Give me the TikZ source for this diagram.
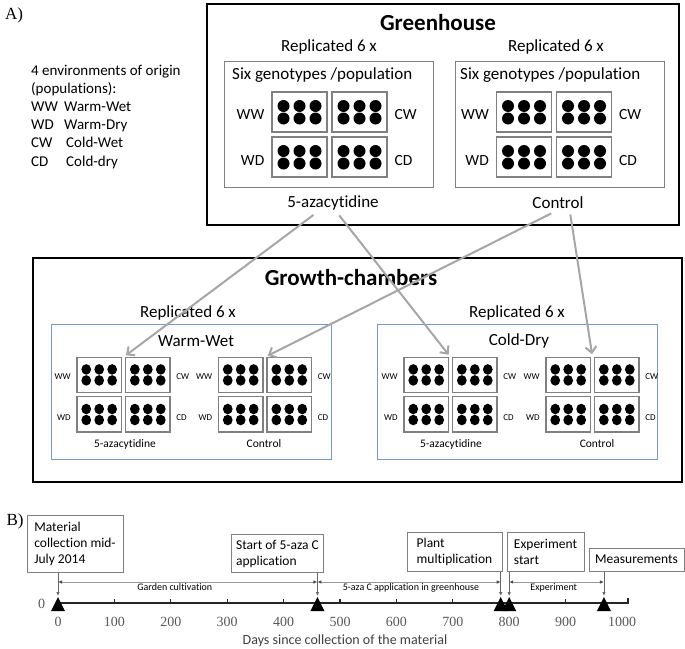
\documentclass[tikz,border=0pt]{standalone}
\usepackage{fontspec}
\setmainfont{Carlito}[Ligatures=NoCommon]
\newfontfamily\serifnum{Liberation Serif}
\usetikzlibrary{arrows.meta}

\definecolor{chamberblue}{RGB}{125,152,190}
\definecolor{flowgray}{RGB}{166,166,166}

\newcommand\dayx[1]{58+0.564*#1}

\tikzset{
  pics/trays/.style 2 args={code={
    \begin{scope}[#2]
      \foreach \bx/\by in {-57.5/-42.5,2.5/-42.5,-57.5/2.5,2.5/2.5}{
        \draw[tray] (\bx,\by) rectangle ++(55,40);
        \foreach \cx in {11.5,27.5,43.5}
          \foreach \cy in {14,26.5}
            \fill (\bx+\cx,\by+\cy) circle (6);
      }
      \node[#1,anchor=east] at (-65,-20) {WW};
      \node[#1,anchor=west] at (65,-20) {CW};
      \node[#1,anchor=east] at (-65,26) {WD};
      \node[#1,anchor=west] at (65,26) {CD};
      \coordinate (-top) at (0,-42.5);
    \end{scope}
  }},
  tray/.style={draw=black!50,line width=1.2pt},
  labbig/.style={font=\fontsize{15.5}{18}\selectfont,inner sep=0pt},
  labsmall/.style={font=\fontsize{9}{11}\selectfont,inner sep=0pt},
  thickbox/.style={draw,line width=2.6pt,inner sep=0pt},
  panel/.style={draw=black!50,line width=1pt,inner sep=0pt},
  chamber/.style={draw=chamberblue,line width=0.9pt,inner sep=0pt},
  big/.style={font=\fontsize{17}{20}\selectfont},
  title/.style={font=\fontsize{23}{27}\selectfont\bfseries},
  small/.style={font=\fontsize{11.5}{14}\selectfont},
  flow/.style={draw=flowgray,line width=2pt,shorten <=2pt,shorten >=3pt,
    -{Straight Barb[length=6pt,width=11pt]}},
  tbox/.style={draw=black!50,line width=1pt,align=left,inner sep=5pt,
    font=\fontsize{13.5}{16}\selectfont},
  pointer/.style={draw=black!60,line width=0.9pt,-{Latex[length=4pt,width=3.5pt]}},
  span/.style={draw=black!40,line width=0.9pt,
    {Latex[length=4pt,width=3.5pt,black!70]}-{Latex[length=4pt,width=3.5pt,black!70]}},
  spanlab/.style={font=\fontsize{10}{12}\selectfont,inner sep=1.5pt},
  axis/.style={draw=black!85,line width=2pt},
  tick/.style={draw=black!85,line width=1.2pt},
  num/.style={font=\serifnum\fontsize{14}{16}\selectfont,text=black!65},
  part/.style={font=\serifnum\fontsize{17}{20}\selectfont}
}

\begin{document}
\begin{tikzpicture}[x=1pt,y=-1pt]
  \useasboundingbox (0,0) rectangle (685,648);

  \node[part] (parta) at (14,15) {A)};
  \node[anchor=north west,align=left,inner sep=0pt,
    font=\fontsize{15}{18.2}\selectfont] (legend) at (31,64.5)
    {4 environments of origin\\(populations):\\
     \makebox[33pt][l]{WW}Warm-Wet\\
     \makebox[33pt][l]{WD}Warm-Dry\\
     \makebox[35pt][l]{CW}Cold-Wet\\
     \makebox[35pt][l]{CD}Cold-dry};

  % greenhouse
  \node[thickbox,minimum width=472pt,minimum height=221pt] (ghbox) at (443,114.5) {};
  \node[title] (gh) at (438,23) {Greenhouse};
  \node[big] (ghrepa) at (329,47) {Replicated 6 x};
  \node[big] (ghrepc) at (556,47) {Replicated 6 x};
  \node[panel,minimum width=209pt,minimum height=126pt] (ghpanela) at (328.5,124) {};
  \node[panel,minimum width=209pt,minimum height=126pt] (ghpanelc) at (559.5,124) {};
  \node[big,anchor=west,inner sep=0pt] (ghsixa) at (232,75) {Six genotypes /population};
  \node[big,anchor=west,inner sep=0pt] (ghsixc) at (460,75) {Six genotypes /population};
  \pic (gha) at (329.5,134.5) {trays={labbig}{}};
  \pic (ghc) at (554,134.5) {trays={labbig}{}};
  \node[big] (ghaza) at (333,203) {5-azacytidine};
  \node[big] (ghctl) at (558,203) {Control};

  % growth chambers
  \node[thickbox,minimum width=649pt,minimum height=224pt] (gcbox) at (357.5,370) {};
  \node[title] (gc) at (351,278) {Growth-chambers};
  \node[big] (wwrep) at (188,313) {Replicated 6 x};
  \node[big] (cdrep) at (517,313) {Replicated 6 x};
  \node[chamber,minimum width=280pt,minimum height=135pt] (wwbox) at (191,391.5) {};
  \node[chamber,minimum width=280pt,minimum height=135pt] (cdbox) at (517,391.5) {};
  \node[big] (ww) at (196,341) {Warm-Wet};
  \node[big] (cd) at (519,341) {Cold-Dry};
  \pic (wwa) at (123.5,394.5) {trays={labsmall}{xscale=0.81,yscale=0.88}};
  \pic (wwc) at (265,394.5) {trays={labsmall}{xscale=0.81,yscale=0.88}};
  \pic (cda) at (450.5,394.5) {trays={labsmall}{xscale=0.81,yscale=0.88}};
  \pic (cdc) at (592.5,394.5) {trays={labsmall}{xscale=0.81,yscale=0.88}};
  \node[small] (wwaza) at (125,444) {5-azacytidine};
  \node[small] (wwctl) at (264,444) {Control};
  \node[small] (cdaza) at (451,444) {5-azacytidine};
  \node[small] (cdctl) at (597,444) {Control};

  \draw[flow] ([xshift=-18pt]ghaza.south) -- (wwa-top);
  \draw[flow] ([xshift=5pt]ghaza.south) -- (cda-top);
  \draw[flow] ([xshift=-5pt]ghctl.south) -- (wwc-top);
  \draw[flow] ([xshift=12pt]ghctl.south) -- (cdc-top);

  % timeline
  \node[part] (partb) at (15,521) {B)};
  \coordinate (t0) at (58,603);
  \coordinate (tend) at ({\dayx{1010}},603);
  \draw[axis] (t0) -- (tend) -- ++(0,-5);
  \foreach \d in {100,200,...,900}
    \draw[tick] ({\dayx{\d}},603) -- ++(0,-4);
  \foreach \d in {0,100,...,1000}
    \node[num] (n\d) at ({\dayx{\d}},621.5) {\d};
  \node[num] (yzero) at (41.5,603.5) {0};
  \node[font=\fontsize{14}{16}\selectfont,text=black!75] (xlab) at (345,641)
    {Days since collection of the material};

  \foreach \d/\e in {0/e0,460/e1,785/e2,800/e3,968/e4}{
    \fill ({\dayx{\d}},597) -- ++(-7,14) -- ++(14,0) -- cycle;
    \coordinate (\e) at ({\dayx{\d}},596);
  }

  \node[tbox,minimum width=96pt,minimum height=57pt] (mat) at (75,543.5)
    {Material\\collection mid-\\July 2014};
  \node[tbox,minimum width=91pt,minimum height=37pt] (aza) at (277.5,553.5)
    {Start of 5-aza C\\application};
  \node[tbox,minimum width=95pt,minimum height=39pt] (mult) at (454.5,551.5)
    {Plant\\multiplication};
  \node[tbox,minimum width=77pt,minimum height=39pt] (exps) at (545.5,551.5)
    {Experiment\\start};
  \node[tbox,minimum width=95pt,minimum height=23pt,inner sep=3pt] (meas) at (636.5,559.5)
    {Measurements};

  \draw[pointer] (e0 |- mat.south) -- (e0);
  \draw[pointer] (e1 |- aza.south) -- (e1);
  \draw[pointer] (e2 |- mult.south) -- (e2);
  \draw[pointer] (e3 |- exps.south) -- (e3);
  \draw[pointer] (e4 |- meas.south) -- (e4);

  \draw[span] ([yshift=14pt]e0) -- ([yshift=14pt]e1)
    node[spanlab,pos=0.45,below] {Garden cultivation};
  \draw[span] ([yshift=14pt]e1) -- ([yshift=14pt]e2)
    node[spanlab,pos=0.51,below] {5-aza C application in greenhouse};
  \draw[span] ([yshift=14pt]e3) -- ([yshift=14pt]e4)
    node[spanlab,pos=0.47,below] {Experiment};
\end{tikzpicture}
\end{document}
